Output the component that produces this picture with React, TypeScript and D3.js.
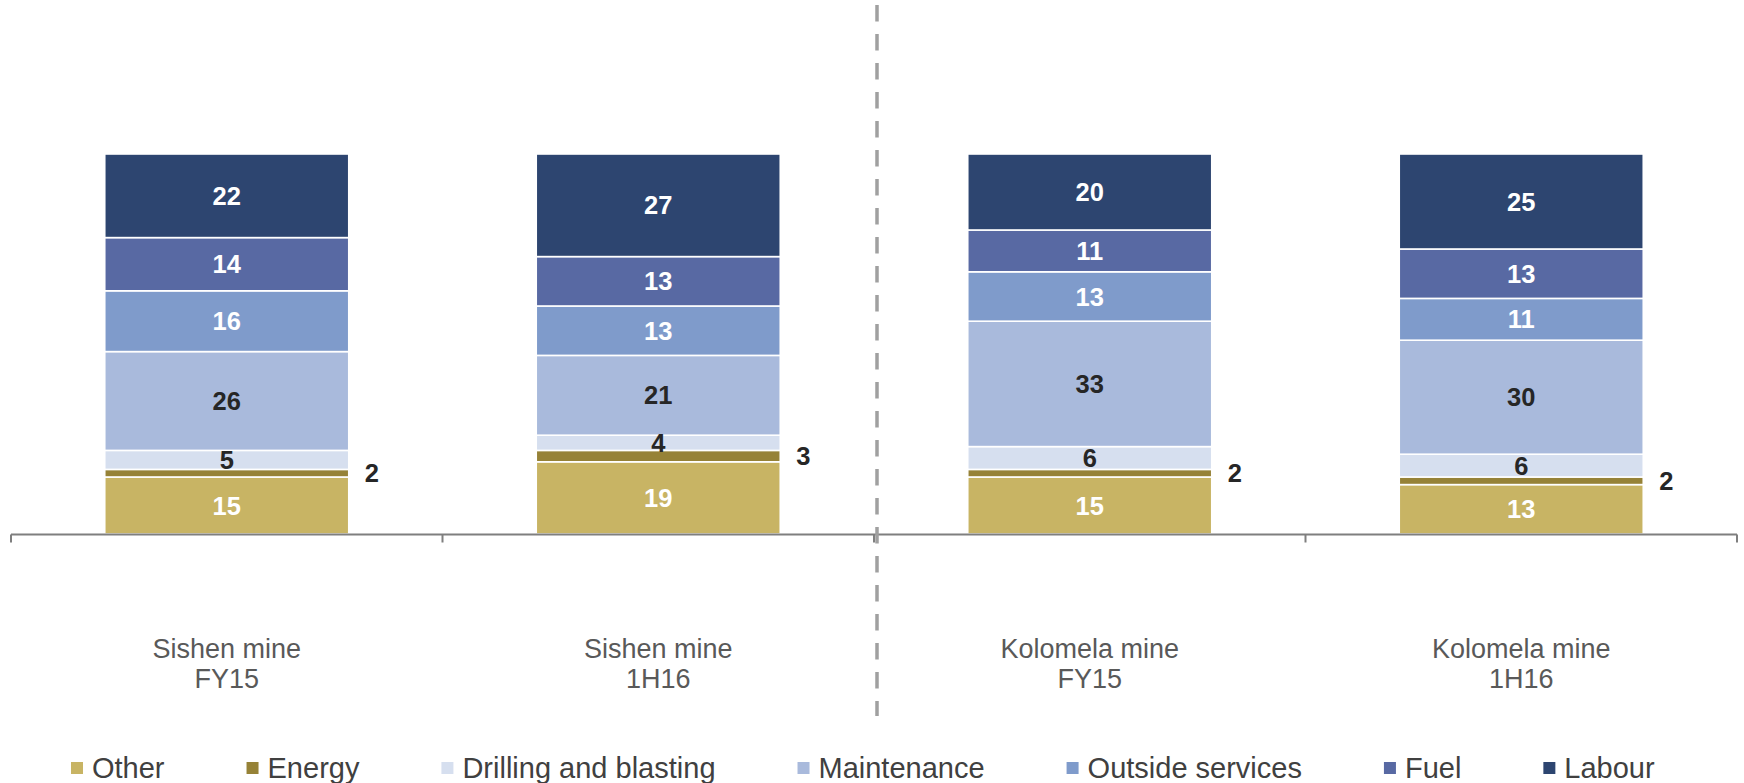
import React, { useEffect, useRef } from "react";
import * as d3 from "d3";

const categories = ["Sishen mine|FY15", "Sishen mine|1H16", "Kolomela mine|FY15", "Kolomela mine|1H16"];
const seriesNames = ["Other", "Energy", "Drilling and blasting", "Maintenance", "Outside services", "Fuel", "Labour"];
const other = [15, 19, 15, 13];
const energy = [2, 3, 2, 2];
const drilling = [5, 4, 6, 6];
const maintenance = [26, 21, 33, 30];
const outsideServices = [16, 13, 13, 11];
const fuel = [14, 13, 11, 13];
const labour = [22, 27, 20, 25];
const seriesValues = [other, energy, drilling, maintenance, outsideServices, fuel, labour];
const colors = ["#C8B464", "#968237", "#D6DFEF", "#A9BADC", "#7F9BCB", "#5869A3", "#2D4570"];
const labelColors = ["#FFFFFF", "#262626", "#262626", "#262626", "#FFFFFF", "#FFFFFF", "#FFFFFF"];

const W = 1744;
const H = 783;
const FONT = "'Liberation Sans', Arial, sans-serif";

export default function App() {
  const ref = useRef<SVGSVGElement | null>(null);

  useEffect(() => {
    const svg = d3.select(ref.current);
    svg.selectAll("*").remove();

    const rows = categories.map((c, i) => {
      const r: any = { cat: c };
      seriesNames.forEach((s, j) => (r[s] = seriesValues[j][i]));
      return r;
    });
    const stack = d3.stack<any>().keys(seriesNames)(rows);

    const x = d3.scaleBand().domain(categories).range([11, 1737]).paddingInner(0.4345).paddingOuter(0.21725);
    const y = d3.scaleLinear().domain([0, 100]).range([534, 154]);
    const step = x.step();
    const gapHalf = (step - x.bandwidth()) / 2;

    // bars
    stack.forEach((layer, si) => {
      const g = svg.append("g");
      layer.forEach((d: any, ci) => {
        const cat = categories[ci];
        g.append("rect")
          .attr("x", x(cat)!)
          .attr("width", x.bandwidth())
          .attr("y", y(d[1]))
          .attr("height", y(d[0]) - y(d[1]))
          .attr("fill", colors[si])
          .attr("stroke", "#fff")
          .attr("stroke-width", 1.6);
      });
    });

    // labels
    stack.forEach((layer, si) => {
      layer.forEach((d: any, ci) => {
        const cat = categories[ci];
        const v = d[1] - d[0];
        const cy = (y(d[0]) + y(d[1])) / 2;
        const outside = seriesNames[si] === "Energy";
        svg.append("text")
          .attr("x", outside ? x(cat)! + x.bandwidth() + 16 : x(cat)! + x.bandwidth() / 2)
          .attr("y", cy)
          .attr("dy", "0.36em")
          .attr("text-anchor", outside ? "start" : "middle")
          .attr("font-family", FONT)
          .attr("font-weight", "bold")
          .attr("font-size", 25.5)
          .attr("fill", outside ? "#262626" : labelColors[si])
          .text(v);
      });
    });

    // axis
    const axisY = 534.5;
    svg.append("line")
      .attr("x1", x.range()[0]).attr("x2", x.range()[1])
      .attr("y1", axisY).attr("y2", axisY)
      .attr("stroke", "#7F7F7F").attr("stroke-width", 2);
    const ticks = categories.map((c) => x(c)! - gapHalf).concat([x.range()[1]]);
    ticks.forEach((t) => {
      svg.append("line")
        .attr("x1", t).attr("x2", t)
        .attr("y1", axisY).attr("y2", axisY + 8)
        .attr("stroke", "#7F7F7F").attr("stroke-width", 2);
    });

    // category labels
    categories.forEach((c) => {
      const [l1, l2] = c.split("|");
      const t = svg.append("text")
        .attr("x", x(c)! + x.bandwidth() / 2)
        .attr("text-anchor", "middle")
        .attr("font-family", FONT)
        .attr("font-size", 27)
        .attr("fill", "#595959");
      t.append("tspan").attr("x", x(c)! + x.bandwidth() / 2).attr("y", 658).text(l1);
      t.append("tspan").attr("x", x(c)! + x.bandwidth() / 2).attr("y", 688).text(l2);
    });

    // dashed divider
    const divX = ticks[2] + 3;
    svg.append("line")
      .attr("x1", divX).attr("x2", divX)
      .attr("y1", 5).attr("y2", 716)
      .attr("stroke", "#A0A0A0").attr("stroke-width", 3.5)
      .attr("stroke-dasharray", "16.5 12.5");

    // legend
    let lx = 71;
    const baseline = 778;
    seriesNames.forEach((s, i) => {
      svg.append("rect")
        .attr("x", lx).attr("y", baseline - 16)
        .attr("width", 12).attr("height", 12)
        .attr("fill", colors[i]);
      const t = svg.append("text")
        .attr("x", lx + 21).attr("y", baseline)
        .attr("font-family", FONT)
        .attr("font-size", 29)
        .attr("fill", "#404040")
        .text(s);
      const w = (t.node() as SVGTextElement).getComputedTextLength();
      lx = lx + 21 + w + 82;
    });
  }, []);

  return (
    <svg
      ref={ref}
      width={W}
      height={H}
      style={{ position: "absolute", left: 0, top: 0, background: "#fff" }}
    />
  );
}
